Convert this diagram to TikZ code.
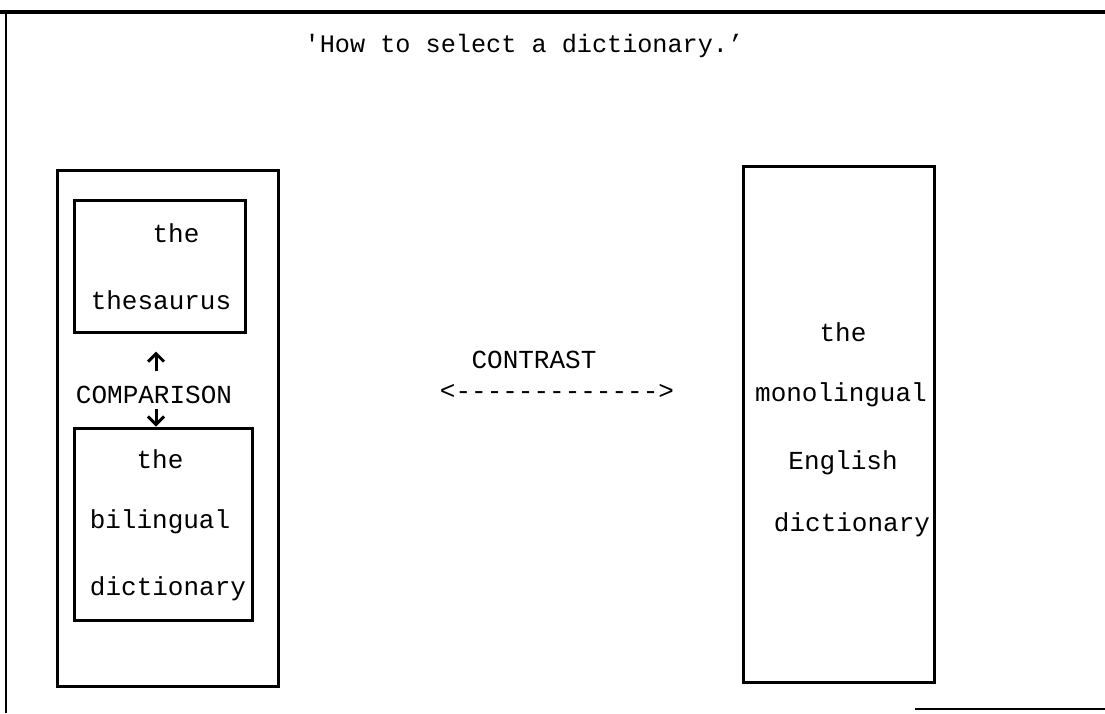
\documentclass[tikz,border=0pt]{standalone}
\usepackage{fontspec}
\newfontfamily\cour{Liberation Mono}
\usetikzlibrary{arrows.meta}
\begin{document}
\begin{tikzpicture}[x=1pt,y=-1pt,
  box/.style={draw,line width=3pt,inner sep=0pt},
  txt/.style={anchor=base,inner sep=0pt,font=\cour\fontsize{26}{30}\selectfont},
  cmp/.style={line width=3pt,-{Straight Barb[length=8pt,width=16pt,line width=3pt]}},
  frame/.style={line width=2.5pt}]
\useasboundingbox (0,0) rectangle (1105,713);
\fill[white] (0,0) rectangle (1105,713);
% outer frame
\coordinate (ftl) at (0,12);
\coordinate (ftr) at (1105,12);
\coordinate (flt) at (6,12);
\coordinate (flb) at (6,713);
\coordinate (fbl) at (915,709);
\coordinate (fbr) at (1105,709);
\draw[frame,line width=3.5pt] (ftl) -- (ftr);
\draw[frame] (flt) -- (flb);
\draw[frame] (fbl) -- (fbr);
% title
\node[txt,font=\cour\fontsize{25.2}{30}\selectfont] (title) at (524,52) {'How to select a dictionary.’};
% left group
\node[box,minimum width=221pt,minimum height=516pt] (outer) at (167.5,428) {};
\node[box,minimum width=171pt,minimum height=132pt] (thes) at (159.5,266) {};
\node[box,minimum width=178pt,minimum height=192pt] (bil) at (163,524) {};
\node[txt] (t1) at (176,242) {the};
\node[txt] (t2) at (161,309) {thesaurus};
\node[txt] (comp) at (154,403) {COMPARISON};
\node[txt] (b1) at (160,468) {the};
\node[txt] (b2) at (160,528) {bilingual};
\node[txt] (b3) at (168,595) {dictionary};
\draw[cmp] ([xshift=2pt,yshift=14pt]comp.north) -- ([xshift=-3.5pt,yshift=-18pt]thes.south);
\draw[cmp] ([xshift=2pt,yshift=-6pt]comp.south) -- ([xshift=-7pt]bil.north);
% contrast
\node[txt] (contrast) at (534,368) {CONTRAST};
\node[txt] (dash) at (557,399) {<------------->};
% right box
\node[box,minimum width=191pt,minimum height=516pt] (mono) at (838.5,424) {};
\node[txt] (m1) at (843,341) {the};
\node[txt] (m2) at (841,401) {monolingual};
\node[txt] (m3) at (843,469) {English};
\node[txt] (m4) at (852,531) {dictionary};
\end{tikzpicture}
\end{document}
